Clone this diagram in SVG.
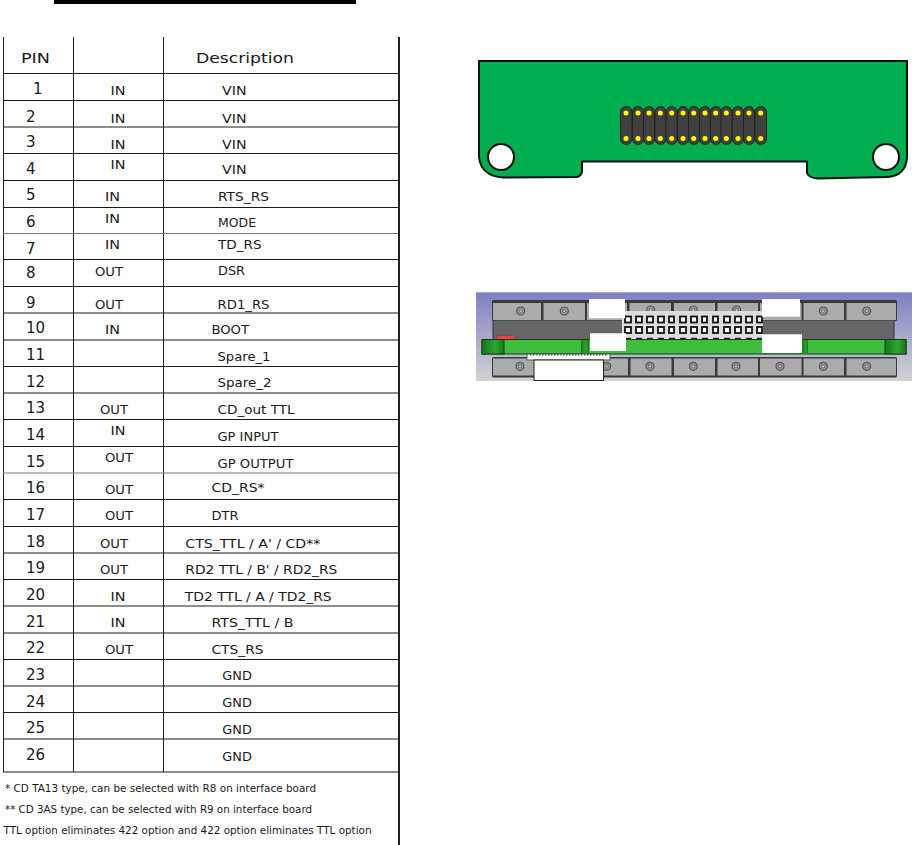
<svg xmlns="http://www.w3.org/2000/svg" width="912" height="845" viewBox="0 0 912 845">
<style>
text{font-family:"DejaVu Sans","Noto Sans",sans-serif;fill:#1a1a1a}
.n{font-size:15px}
.h{font-size:14px}
.s{font-size:12px}
.f{font-size:10.500px}
.g{stroke:#1c1c1c;fill:none;stroke-width:1}
.b{fill:#ababab}
.sc{fill:#a0a0a0;stroke:#555;stroke-width:1.200}
.sq{fill:#fff;stroke:#111;stroke-width:1.800}
.w{fill:#fff}
.slot{fill:#404040;stroke:#222;stroke-width:1}
.pin{fill:#ff0}
</style>
<defs>
<linearGradient id="bg" x1="0" y1="0" x2="0" y2="1"><stop offset="0" stop-color="#7f80c2"/><stop offset="1" stop-color="#d2d2d2"/></linearGradient>
<linearGradient id="end" x1="0" y1="0" x2="1" y2="0"><stop offset="0" stop-color="#0f7a18"/><stop offset=".6" stop-color="#2fa52f"/><stop offset="1" stop-color="#0f7a18"/></linearGradient>
<g id="screw"><circle r="4" class="sc"/><circle r="1.800" fill="#bbb" stroke="#555" stroke-width=".8"/></g>
</defs>
<rect id="bar" x="54" y="0" width="302" height="4" fill="#000"/>
<g id="table">
<path class="g" d="M3.500 37V772M73.500 37V772M163.500 37V772"/>
<path class="g" d="M3 73.500H398M3 100.500H398M3 127H398M3 153.500H398M3 180.500H398M3 207.500H398M3 259.500H398M3 286.500H398M3 313H398M3 340H398M3 366.500H398M3 393H398M3 419.500H398M3 446.500H398M3 499.500H398M3 526.500H398M3 553H398M3 579.500H398M3 606H398M3 633H398M3 659.500H398M3 686H398M3 712.500H398M3 739H398M3 772H398"/>
<path d="M3 233.500H398M3 473H398" stroke="#777" fill="none"/>
<rect x="398" y="37" width="2" height="808" fill="#222"/>
<text class="h" x="21" y="62.500" textLength="29" lengthAdjust="spacingAndGlyphs">PIN</text><text class="h" x="196" y="63" textLength="98" lengthAdjust="spacingAndGlyphs">Description</text>
<g class="nums">
<text class="n" x="33" y="94">1</text><text class="n" x="26" y="122">2</text><text class="n" x="26" y="147">3</text><text class="n" x="26" y="174">4</text><text class="n" x="26" y="200">5</text><text class="n" x="26" y="227">6</text><text class="n" x="26" y="254">7</text><text class="n" x="26" y="278">8</text><text class="n" x="26" y="308">9</text><text class="n" x="26" y="333">10</text><text class="n" x="26" y="360">11</text><text class="n" x="26" y="387">12</text><text class="n" x="26" y="413">13</text><text class="n" x="26" y="440">14</text><text class="n" x="26" y="467">15</text><text class="n" x="26" y="493">16</text><text class="n" x="26" y="520">17</text><text class="n" x="26" y="547">18</text><text class="n" x="26" y="573">19</text><text class="n" x="26" y="600">20</text><text class="n" x="26" y="627">21</text><text class="n" x="26" y="653">22</text><text class="n" x="26" y="680">23</text><text class="n" x="26" y="707">24</text><text class="n" x="26" y="733">25</text><text class="n" x="26" y="760">26</text>
</g>
<g class="dir">
<text class="s" x="110.500" y="95" textLength="15" lengthAdjust="spacingAndGlyphs">IN</text><text class="s" x="110.500" y="122.500" textLength="15" lengthAdjust="spacingAndGlyphs">IN</text><text class="s" x="110.500" y="148.500" textLength="15" lengthAdjust="spacingAndGlyphs">IN</text><text class="s" x="110.500" y="168.500" textLength="15" lengthAdjust="spacingAndGlyphs">IN</text><text class="s" x="105" y="201" textLength="15" lengthAdjust="spacingAndGlyphs">IN</text><text class="s" x="105" y="222.500" textLength="15" lengthAdjust="spacingAndGlyphs">IN</text><text class="s" x="105" y="249" textLength="15" lengthAdjust="spacingAndGlyphs">IN</text><text class="s" x="95" y="276" textLength="28" lengthAdjust="spacingAndGlyphs">OUT</text><text class="s" x="95" y="309" textLength="28" lengthAdjust="spacingAndGlyphs">OUT</text><text class="s" x="105" y="334" textLength="15" lengthAdjust="spacingAndGlyphs">IN</text><text class="s" x="100" y="414" textLength="28" lengthAdjust="spacingAndGlyphs">OUT</text><text class="s" x="110.500" y="435" textLength="15" lengthAdjust="spacingAndGlyphs">IN</text><text class="s" x="105" y="462" textLength="28" lengthAdjust="spacingAndGlyphs">OUT</text><text class="s" x="105" y="494" textLength="28" lengthAdjust="spacingAndGlyphs">OUT</text><text class="s" x="105" y="520" textLength="28" lengthAdjust="spacingAndGlyphs">OUT</text><text class="s" x="100" y="548" textLength="28" lengthAdjust="spacingAndGlyphs">OUT</text><text class="s" x="100" y="574" textLength="28" lengthAdjust="spacingAndGlyphs">OUT</text><text class="s" x="110.500" y="600.500" textLength="15" lengthAdjust="spacingAndGlyphs">IN</text><text class="s" x="110.500" y="627" textLength="15" lengthAdjust="spacingAndGlyphs">IN</text><text class="s" x="105" y="654" textLength="28" lengthAdjust="spacingAndGlyphs">OUT</text>
</g>
<g class="desc">
<text class="s" x="222" y="95" textLength="24.500" lengthAdjust="spacingAndGlyphs">VIN</text><text class="s" x="222" y="122.500" textLength="24.500" lengthAdjust="spacingAndGlyphs">VIN</text><text class="s" x="222" y="148.500" textLength="24.500" lengthAdjust="spacingAndGlyphs">VIN</text><text class="s" x="222" y="174" textLength="24.500" lengthAdjust="spacingAndGlyphs">VIN</text><text class="s" x="218" y="201" textLength="51" lengthAdjust="spacingAndGlyphs">RTS_RS</text><text class="s" x="218" y="227" textLength="38" lengthAdjust="spacingAndGlyphs">MODE</text><text class="s" x="218" y="248.500" textLength="43.500" lengthAdjust="spacingAndGlyphs">TD_RS</text><text class="s" x="218" y="275" textLength="27" lengthAdjust="spacingAndGlyphs">DSR</text><text class="s" x="217.500" y="309" textLength="52" lengthAdjust="spacingAndGlyphs">RD1_RS</text><text class="s" x="211.500" y="334" textLength="37.500" lengthAdjust="spacingAndGlyphs">BOOT</text><text class="s" x="217.500" y="361" textLength="53" lengthAdjust="spacingAndGlyphs">Spare_1</text><text class="s" x="217.500" y="387" textLength="54" lengthAdjust="spacingAndGlyphs">Spare_2</text><text class="s" x="217.500" y="414" textLength="77" lengthAdjust="spacingAndGlyphs">CD_out TTL</text><text class="s" x="217.500" y="441" textLength="61" lengthAdjust="spacingAndGlyphs">GP INPUT</text><text class="s" x="217.500" y="468" textLength="76" lengthAdjust="spacingAndGlyphs">GP OUTPUT</text><text class="s" x="211.500" y="492" textLength="53" lengthAdjust="spacingAndGlyphs">CD_RS*</text><text class="s" x="211.500" y="520" textLength="27" lengthAdjust="spacingAndGlyphs">DTR</text><text class="s" x="185.300" y="548" textLength="135" lengthAdjust="spacingAndGlyphs">CTS_TTL / A' / CD**</text><text class="s" x="185.300" y="574" textLength="152" lengthAdjust="spacingAndGlyphs">RD2 TTL / B' / RD2_RS</text><text class="s" x="184.700" y="600.500" textLength="147" lengthAdjust="spacingAndGlyphs">TD2 TTL / A / TD2_RS</text><text class="s" x="211.500" y="627" textLength="82" lengthAdjust="spacingAndGlyphs">RTS_TTL / B</text><text class="s" x="211.500" y="654" textLength="52" lengthAdjust="spacingAndGlyphs">CTS_RS</text><text class="s" x="222.300" y="680" textLength="29.500" lengthAdjust="spacingAndGlyphs">GND</text><text class="s" x="222.300" y="707" textLength="29.500" lengthAdjust="spacingAndGlyphs">GND</text><text class="s" x="222.300" y="734" textLength="29.500" lengthAdjust="spacingAndGlyphs">GND</text><text class="s" x="222.300" y="761" textLength="29.500" lengthAdjust="spacingAndGlyphs">GND</text>
</g>
<text class="f" x="5" y="792" textLength="311" lengthAdjust="spacingAndGlyphs">* CD TA13 type, can be selected with R8 on interface board</text>
<text class="f" x="5" y="813" textLength="307" lengthAdjust="spacingAndGlyphs">** CD 3AS type, can be selected with R9 on interface board</text>
<text class="f" x="3.500" y="834" textLength="368" lengthAdjust="spacingAndGlyphs">TTL option eliminates 422 option and 422 option eliminates TTL option</text>
</g>
<g id="pcb">
<path d="M479 61H907V157Q906 176 887 177L818 178.500Q809 178 807 173V161.500H582V172Q581 176 577 177L503 177.500Q481 176 479 157Z" fill="#00ae50" stroke="#111" stroke-width="2" stroke-linejoin="round"/>
<circle cx="501" cy="157" r="13" fill="#fff" stroke="#111" stroke-width="2"/>
<circle cx="886" cy="157" r="13" fill="#fff" stroke="#111" stroke-width="2"/>
<g id="header">
<rect class="slot" x="620.500" y="106.500" width="11.500" height="38" rx="5.700"/><rect class="slot" x="632.500" y="106.500" width="11" height="38" rx="5.500"/><rect class="slot" x="643.500" y="106.500" width="11" height="38" rx="5.500"/><rect class="slot" x="655" y="106.500" width="11" height="38" rx="5.500"/><rect class="slot" x="666" y="106.500" width="11" height="38" rx="5.500"/><rect class="slot" x="677.500" y="106.500" width="11" height="38" rx="5.500"/><rect class="slot" x="688.500" y="106.500" width="11" height="38" rx="5.500"/><rect class="slot" x="699.500" y="106.500" width="11" height="38" rx="5.500"/><rect class="slot" x="710.500" y="106.500" width="11" height="38" rx="5.500"/><rect class="slot" x="721" y="106.500" width="11" height="38" rx="5.500"/><rect class="slot" x="732.500" y="106.500" width="11" height="38" rx="5.500"/><rect class="slot" x="743.500" y="106.500" width="11" height="38" rx="5.500"/><rect class="slot" x="755" y="106.500" width="11.500" height="38" rx="5.700"/>
<g class="pin"><circle cx="626" cy="113" r="2.500"/><circle cx="638" cy="113" r="2.500"/><circle cx="649" cy="113" r="2.500"/><circle cx="660.300" cy="113" r="2.500"/><circle cx="671.700" cy="113" r="2.500"/><circle cx="683" cy="113" r="2.500"/><circle cx="693.700" cy="113" r="2.500"/><circle cx="705" cy="113" r="2.500"/><circle cx="715.700" cy="113" r="2.500"/><circle cx="726.300" cy="113" r="2.500"/><circle cx="738" cy="113" r="2.500"/><circle cx="749" cy="113" r="2.500"/><circle cx="760.700" cy="113" r="2.500"/>
<circle cx="626" cy="138.500" r="2.500"/><circle cx="638" cy="138.500" r="2.500"/><circle cx="649" cy="138.500" r="2.500"/><circle cx="660.300" cy="138.500" r="2.500"/><circle cx="671.700" cy="138.500" r="2.500"/><circle cx="683" cy="138.500" r="2.500"/><circle cx="693.700" cy="138.500" r="2.500"/><circle cx="705" cy="138.500" r="2.500"/><circle cx="715.700" cy="138.500" r="2.500"/><circle cx="726.300" cy="138.500" r="2.500"/><circle cx="738" cy="138.500" r="2.500"/><circle cx="749" cy="138.500" r="2.500"/><circle cx="760.700" cy="138.500" r="2.500"/></g>
</g>
</g>
<g id="side-view">
<rect x="476" y="292.300" width="436" height="88.700" fill="url(#bg)"/>
<rect x="492" y="300" width="405" height="21" rx="1.500" fill="#3a3a3a"/>
<rect x="492" y="357" width="405" height="20.500" rx="1.500" fill="#3a3a3a"/>
<rect x="493" y="320" width="401" height="20" fill="#666" stroke="#333"/>
<g class="b">
<rect x="493" y="303" width="48" height="17"/><rect x="543.500" y="303" width="41.500" height="17"/><rect x="587" y="303" width="40" height="17"/><rect x="629.500" y="303" width="41.500" height="10"/><rect x="674" y="303" width="41" height="10"/><rect x="717.500" y="303" width="40.500" height="10"/><rect x="760" y="303" width="41.500" height="17"/><rect x="803.500" y="303" width="40.500" height="17"/><rect x="846.500" y="303" width="49.500" height="17"/>
<rect x="493" y="358.500" width="61" height="17"/><rect x="555" y="358.500" width="73" height="17"/><rect x="630.500" y="358.500" width="41" height="17"/><rect x="674" y="358.500" width="41" height="17"/><rect x="717.500" y="358.500" width="40.500" height="17"/><rect x="760" y="358.500" width="41.500" height="17"/><rect x="803.500" y="358.500" width="40.500" height="17"/><rect x="846.500" y="358.500" width="49.500" height="17"/>
</g>
<use href="#screw" x="520.700" y="311"/><use href="#screw" x="564.300" y="311"/><use href="#screw" x="650.700" y="310"/><use href="#screw" x="693.300" y="310"/><use href="#screw" x="736.700" y="310"/><use href="#screw" x="823.300" y="311"/><use href="#screw" x="866.700" y="311"/>
<use href="#screw" x="520" y="366.300"/><use href="#screw" x="606.700" y="366.300"/><use href="#screw" x="650" y="366.300"/><use href="#screw" x="693.300" y="366.300"/><use href="#screw" x="736" y="366.300"/><use href="#screw" x="780" y="366.300"/><use href="#screw" x="823.300" y="366.300"/><use href="#screw" x="866.700" y="366.300"/>
<rect x="622" y="311" width="141" height="29" fill="#dcdcdc"/>
<g class="sq">
<rect x="625" y="316.500" width="6" height="6"/><rect x="636" y="316.500" width="6" height="6"/><rect x="647" y="316.500" width="6" height="6"/><rect x="658" y="316.500" width="6" height="6"/><rect x="669" y="316.500" width="5" height="6"/><rect x="680" y="316.500" width="6" height="6"/><rect x="691" y="316.500" width="6" height="6"/><rect x="702" y="316.500" width="5" height="6"/><rect x="713" y="316.500" width="5" height="6"/><rect x="724" y="316.500" width="6" height="6"/><rect x="735" y="316.500" width="6" height="6"/><rect x="746" y="316.500" width="6" height="6"/><rect x="757" y="316.500" width="5" height="6"/>
<rect x="625" y="327" width="6" height="6"/><rect x="636" y="327" width="6" height="6"/><rect x="647" y="327" width="6" height="6"/><rect x="658" y="327" width="6" height="6"/><rect x="669" y="327" width="5" height="6"/><rect x="680" y="327" width="6" height="6"/><rect x="691" y="327" width="6" height="6"/><rect x="702" y="327" width="5" height="6"/><rect x="713" y="327" width="5" height="6"/><rect x="724" y="327" width="6" height="6"/><rect x="735" y="327" width="6" height="6"/><rect x="746" y="327" width="6" height="6"/><rect x="757" y="327" width="5" height="6"/>
</g>
<path d="M625 338.500H762" stroke="#222" stroke-width="1.500" stroke-dasharray="6 5" fill="none"/>
<rect x="497" y="335.500" width="18" height="4" fill="#f04040" stroke="#555" stroke-width=".6"/>
<rect x="482" y="339.500" width="424" height="14.500" fill="#3dbf3d" stroke="#1a3a1a"/>
<rect x="482" y="339.500" width="22" height="14.500" fill="url(#end)" stroke="#1a3a1a"/>
<rect x="885" y="339.500" width="21" height="14.500" fill="url(#end)" stroke="#1a3a1a"/>
<rect x="581" y="340" width="8" height="14" fill="url(#end)"/>
<rect x="802" y="340" width="6" height="14" fill="url(#end)"/>
<rect x="527" y="354" width="83" height="6" fill="#fff" stroke="#555"/>
<path d="M530 354.500H607" stroke="#555" stroke-width="2" stroke-dasharray="1.500 1.500" fill="none"/>
<rect x="534" y="360" width="69.500" height="20.500" fill="#fff" stroke="#222"/>
<rect class="w" x="589" y="299" width="36" height="19.300"/><rect class="w" x="762" y="299" width="38" height="17.700"/><rect class="w" x="590" y="333.300" width="36" height="17.700"/><rect class="w" x="762" y="334.300" width="40" height="18.700"/>
</g>
</svg>
